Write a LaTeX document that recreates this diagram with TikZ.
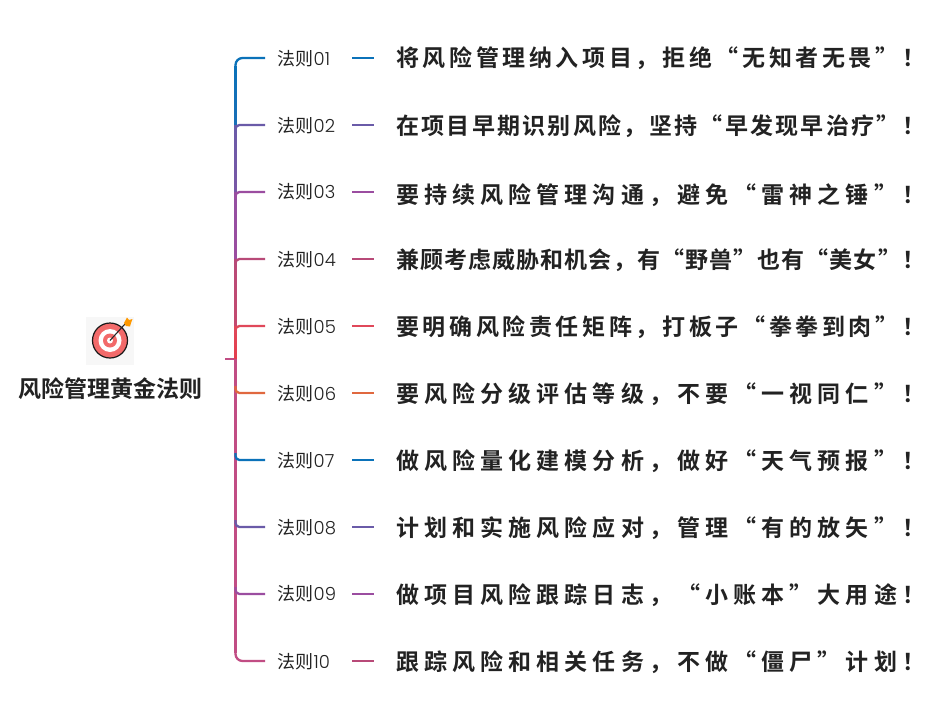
\documentclass[tikz,border=0pt]{standalone}
\usepackage{fontspec}
\usetikzlibrary{calc}
\newfontfamily\cjkreg{Noto Sans CJK SC}
\newfontfamily\cjkbold{Noto Sans CJK SC Bold}
\newfontfamily\numfont{Poppins Light}
\definecolor{cA}{HTML}{0B72B9}
\definecolor{cB}{HTML}{6A5BA8}
\definecolor{cC}{HTML}{9B4DA0}
\definecolor{cD}{HTML}{B84A78}
\definecolor{cE}{HTML}{E0485A}
\definecolor{cF}{HTML}{E0683F}
\definecolor{cT}{HTML}{C14D84}
\definecolor{cIcon}{HTML}{F26A6A}
\definecolor{cInk}{HTML}{222222}
\tikzset{
  branchline/.style={line width=2.3pt,rounded corners=4pt},
  dashline/.style={line width=1.2pt},
  lbl/.style={anchor=west,inner sep=0pt,text=cInk,font={\fontsize{18}{20}\cjkreg}},
  rule/.style={anchor=west,inner sep=0pt,text=cInk},
  roottext/.style={inner sep=0pt,text=cInk,font={\fontsize{23}{26}\cjkbold}},
}
\newcommand{\rowtext}[2]{\pgfmathsetmacro{\lsval}{(506/(#1-1)-23)/23*100}\fontsize{23}{26}\cjkbold\addfontfeature{LetterSpace=\lsval}#2}
\newcommand{\lab}[1]{法则{\numfont #1}}
\begin{document}
\begin{tikzpicture}[x=1pt,y=-1pt]
\useasboundingbox (0,0) rectangle (945,720);
\fill[white] (0,0) rectangle (945,720);
% icon
\fill[black!3] (86,317) rectangle (134,365);
\node[circle,draw=black!90,line width=1.2pt,fill=cIcon,minimum size=35pt,inner sep=0pt] (iconring) at (110,340.5) {};
\fill[white] (iconring.center) circle (11.5);
\fill[cIcon] (iconring.center) circle (7);
\fill[white] (iconring.center) circle (3);
\draw[line width=1.1pt,black!85] (iconring.center) -- (125,324);
\fill[orange!80!yellow] (124,323) -- (127,317.5) -- (129,320) -- (132.5,319) -- (131,323) -- (130,326.5) -- (126,326) -- cycle;
\node[roottext] (root) at (110,389) {风险管理黄金法则};
% hub
\coordinate (hubL) at (225,359);
\coordinate (hub) at (235.5,359);
\foreach \i/\y in {1/58,2/125,3/192,4/259,5/326,6/393,7/460,8/527,9/594,10/661}{
  \coordinate (j\i) at (235.5,\y);
  \coordinate (e\i) at (265,\y);
  \coordinate (ds\i) at (352,\y);
  \coordinate (de\i) at (374,\y);
}
\node[lbl] (l1) at (277.5,58.5) {\lab{01}};
\node[lbl] (l2) at (277.5,125.5) {\lab{02}};
\node[lbl] (l3) at (277.5,192) {\lab{03}};
\node[lbl] (l4) at (277.5,259.5) {\lab{04}};
\node[lbl] (l5) at (277.5,326.5) {\lab{05}};
\node[lbl] (l6) at (277.5,393.5) {\lab{06}};
\node[lbl] (l7) at (277.5,460.5) {\lab{07}};
\node[lbl] (l8) at (277.5,527.5) {\lab{08}};
\node[lbl] (l9) at (277.5,594) {\lab{09}};
\node[lbl] (l10) at (277.5,661.5) {\lab{10}};
\node[rule] (t1) at (396,58) {\rowtext{20}{将风险管理纳入项目，拒绝“无知者无畏”！}};
\node[rule] (t2) at (396,126) {\rowtext{21}{在项目早期识别风险，坚持“早发现早治疗”！}};
\node[rule] (t3) at (396,195) {\rowtext{19}{要持续风险管理沟通，避免“雷神之锤”！}};
\node[rule] (t4) at (396,260) {\rowtext{22}{兼顾考虑威胁和机会，有“野兽”也有“美女”！}};
\node[rule] (t5) at (396,327) {\rowtext{20}{要明确风险责任矩阵，打板子“拳拳到肉”！}};
\node[rule] (t6) at (396,394) {\rowtext{19}{要风险分级评估等级，不要“一视同仁”！}};
\node[rule] (t7) at (396,461) {\rowtext{19}{做风险量化建模分析，做好“天气预报”！}};
\node[rule] (t8) at (396,528) {\rowtext{19}{计划和实施风险应对，管理“有的放矢”！}};
\node[rule] (t9) at (396,595) {\rowtext{19}{做项目风险跟踪日志，“小账本”大用途！}};
\node[rule] (t10) at (396,662) {\rowtext{19}{跟踪风险和相关任务，不做“僵尸”计划！}};
% dashes
\foreach \i/\c in {1/cA,2/cB,3/cC,4/cD,5/cE,6/cF,7/cA,8/cB,9/cC,10/cD}{
  \draw[dashline,\c] (ds\i) -- (de\i);
}
\draw[line width=2pt,cT] (hubL) -- (hub);
% trunk
\shade[top color=cA,bottom color=cA!85!cB] (234.2,66) rectangle (236.8,125);
\shade[top color=cB,bottom color=cB!70!cC] (234.2,125) rectangle (236.8,192);
\shade[top color=cC!85!cB,bottom color=cC] (234.2,192) rectangle (236.8,259);
\shade[top color=cD,bottom color=cD!70!cE] (234.2,259) rectangle (236.8,326);
\shade[top color=cE,bottom color=cE!85!red] (234.2,326) rectangle (236.8,359);
\fill[cT] (234.2,359) rectangle (236.8,653);
\foreach \i/\c/\off in {2/cB/7,3/cC/7,4/cD/7,5/cE/7,6/cF/-7,7/cA/-7,8/cB/-7,9/cC/-7}{
  \draw[branchline,\c] ($(j\i)+(0,\off)$) |- (e\i);
}
\draw[line width=2.3pt,rounded corners=7pt,cA] ($(j1)+(0,15)$) |- (e1);
\draw[line width=2.3pt,rounded corners=7pt,cT] ($(j10)+(0,-15)$) |- (e10);
\end{tikzpicture}
\end{document}
